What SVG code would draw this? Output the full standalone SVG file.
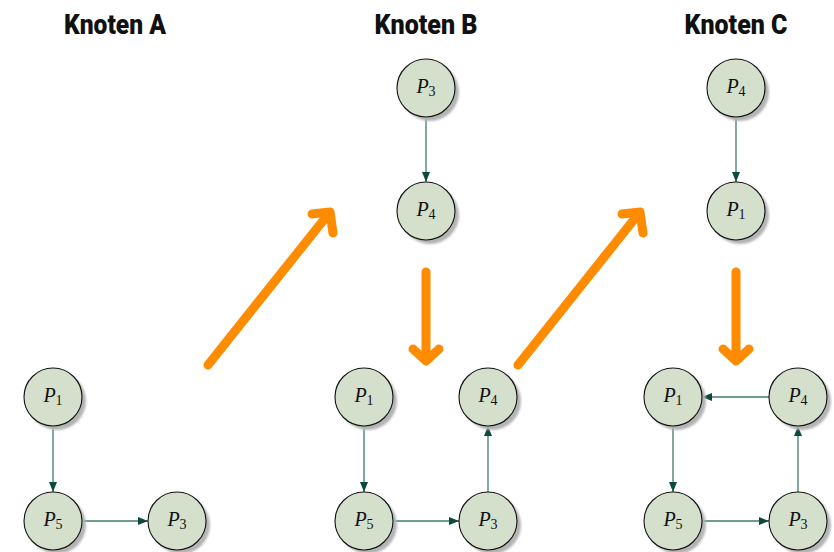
<svg xmlns="http://www.w3.org/2000/svg" width="834" height="552" viewBox="0 0 834 552">
  <style>
    .title { font-family: Roboto, "DejaVu Sans", sans-serif; font-weight: 900; font-size: 27px; fill: #111; text-anchor: middle; }
    .body { fill: #d4dfcc; stroke: #111; stroke-width: 1.1; }
    .shadow { fill: #b4b4b4; filter: url(#soft); }
    .lbl { font-family: "Liberation Serif", "DejaVu Serif", serif; font-size: 20px; fill: #111; text-anchor: middle; }
    .lbl .p { font-style: italic; }
    .lbl .s { font-size: 14px; }
    .edge { stroke: #3f7a6d; stroke-width: 1.3; fill: none; marker-end: url(#tip); }
    .big { stroke: #ff8c00; stroke-width: 9; fill: none; stroke-linecap: round; stroke-linejoin: round; }
  </style>
  <defs>
    <filter id="soft" x="-20%" y="-20%" width="140%" height="140%">
      <feGaussianBlur stdDeviation="1.2"/>
    </filter>
    <marker id="tip" markerUnits="userSpaceOnUse" markerWidth="12" markerHeight="10" refX="10" refY="4" orient="auto">
      <path d="M0,0 L10,4 L0,8 z" fill="#0c4a3c"/>
    </marker>
    <g id="disc">
      <circle class="shadow" cx="4" cy="4" r="29"/>
      <circle class="body" cx="0" cy="0" r="29"/>
    </g>
  </defs>

  <!-- headings -->
  <text class="title" x="115" y="34" textLength="102" lengthAdjust="spacingAndGlyphs">Knoten A</text>
  <text class="title" x="426" y="34" textLength="103" lengthAdjust="spacingAndGlyphs">Knoten B</text>
  <text class="title" x="736" y="34" textLength="103" lengthAdjust="spacingAndGlyphs">Knoten C</text>

  <!-- transition arrows -->
  <g id="transitions">
    <path class="big" d="M208,365 L330,212 M312,214 L330,212 L333,233"/>
    <path class="big" d="M426,272 L426,361 M413,349 L426,361 L439,349"/>
    <path class="big" d="M518,365 L640,212 M622,214 L640,212 L643,233"/>
    <path class="big" d="M736,272 L736,361 M723,349 L736,361 L749,349"/>
  </g>

  <!-- connectors -->
  <g id="connectors">
    <line class="edge" x1="53" y1="426" x2="53" y2="492"/>
    <line class="edge" x1="82" y1="521" x2="148" y2="521"/>

    <line class="edge" x1="426" y1="117" x2="426" y2="182"/>
    <line class="edge" x1="364" y1="426" x2="364" y2="492"/>
    <line class="edge" x1="393" y1="521" x2="459" y2="521"/>
    <line class="edge" x1="488" y1="492" x2="488" y2="426"/>

    <line class="edge" x1="736" y1="117" x2="736" y2="182"/>
    <line class="edge" x1="673" y1="426" x2="673" y2="492"/>
    <line class="edge" x1="702" y1="521" x2="769" y2="521"/>
    <line class="edge" x1="798" y1="492" x2="798" y2="426"/>
    <line class="edge" x1="769" y1="397" x2="702" y2="397"/>
  </g>

  <!-- Knoten A -->
  <g id="a-p1" class="node" transform="translate(53,397)"><use href="#disc"/><text class="lbl" y="5"><tspan class="p">P</tspan><tspan class="s" dy="3">1</tspan></text></g>
  <g id="a-p5" class="node" transform="translate(53,521)"><use href="#disc"/><text class="lbl" y="5"><tspan class="p">P</tspan><tspan class="s" dy="3">5</tspan></text></g>
  <g id="a-p3" class="node" transform="translate(177,521)"><use href="#disc"/><text class="lbl" y="5"><tspan class="p">P</tspan><tspan class="s" dy="3">3</tspan></text></g>

  <!-- Knoten B -->
  <g id="b-top-p3" class="node" transform="translate(426,88)"><use href="#disc"/><text class="lbl" y="5"><tspan class="p">P</tspan><tspan class="s" dy="3">3</tspan></text></g>
  <g id="b-top-p4" class="node" transform="translate(426,211)"><use href="#disc"/><text class="lbl" y="5"><tspan class="p">P</tspan><tspan class="s" dy="3">4</tspan></text></g>
  <g id="b-p1" class="node" transform="translate(364,397)"><use href="#disc"/><text class="lbl" y="5"><tspan class="p">P</tspan><tspan class="s" dy="3">1</tspan></text></g>
  <g id="b-p4" class="node" transform="translate(488,397)"><use href="#disc"/><text class="lbl" y="5"><tspan class="p">P</tspan><tspan class="s" dy="3">4</tspan></text></g>
  <g id="b-p5" class="node" transform="translate(364,521)"><use href="#disc"/><text class="lbl" y="5"><tspan class="p">P</tspan><tspan class="s" dy="3">5</tspan></text></g>
  <g id="b-p3" class="node" transform="translate(488,521)"><use href="#disc"/><text class="lbl" y="5"><tspan class="p">P</tspan><tspan class="s" dy="3">3</tspan></text></g>

  <!-- Knoten C -->
  <g id="c-top-p4" class="node" transform="translate(736,88)"><use href="#disc"/><text class="lbl" y="5"><tspan class="p">P</tspan><tspan class="s" dy="3">4</tspan></text></g>
  <g id="c-top-p1" class="node" transform="translate(736,211)"><use href="#disc"/><text class="lbl" y="5"><tspan class="p">P</tspan><tspan class="s" dy="3">1</tspan></text></g>
  <g id="c-p1" class="node" transform="translate(673,397)"><use href="#disc"/><text class="lbl" y="5"><tspan class="p">P</tspan><tspan class="s" dy="3">1</tspan></text></g>
  <g id="c-p4" class="node" transform="translate(798,397)"><use href="#disc"/><text class="lbl" y="5"><tspan class="p">P</tspan><tspan class="s" dy="3">4</tspan></text></g>
  <g id="c-p5" class="node" transform="translate(673,521)"><use href="#disc"/><text class="lbl" y="5"><tspan class="p">P</tspan><tspan class="s" dy="3">5</tspan></text></g>
  <g id="c-p3" class="node" transform="translate(798,521)"><use href="#disc"/><text class="lbl" y="5"><tspan class="p">P</tspan><tspan class="s" dy="3">3</tspan></text></g>
</svg>
